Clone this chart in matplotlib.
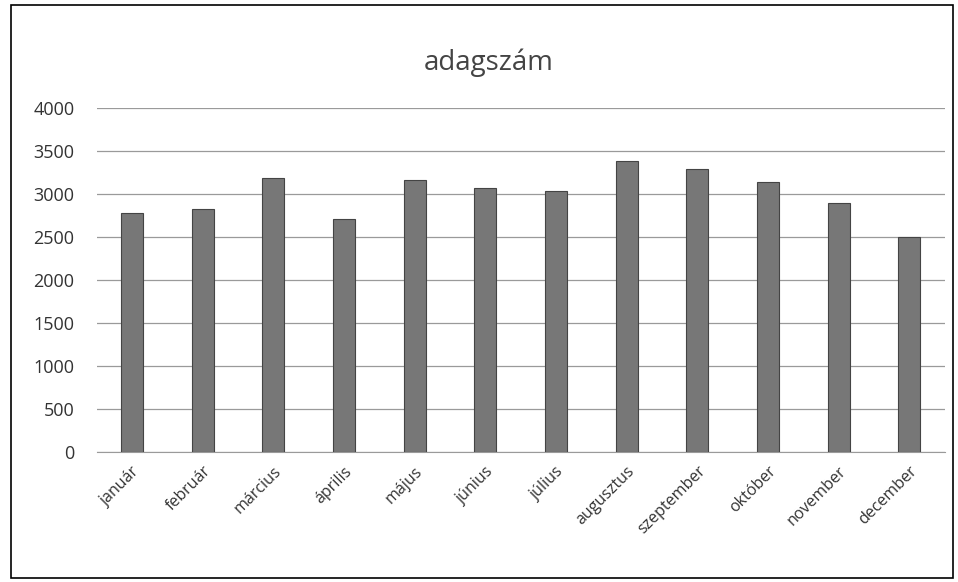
import matplotlib.pyplot as plt
from matplotlib.patches import Rectangle

honapok = ["január", "február", "március", "április", "május", "június",
           "július", "augusztus", "szeptember", "október", "november", "december"]
adagszam = [2780, 2830, 3190, 2710, 3170, 3070, 3040, 3390, 3290, 3140, 2900, 2500]
y_ticks = [0, 500, 1000, 1500, 2000, 2500, 3000, 3500, 4000]

plt.rcParams['font.family'] = ['Open Sans', 'DejaVu Sans']

fig = plt.figure(figsize=(9.58, 5.82), dpi=100)
ax = fig.add_axes([0.101, 0.223, 0.885, 0.591])

x = range(len(honapok))
ax.bar(x, adagszam, width=0.31, color="#777777", edgecolor="#444444", linewidth=0.8, zorder=3)

ax.set_xlim(-0.5, len(honapok) - 0.5)
ax.set_ylim(0, 4000)
ax.set_yticks(y_ticks)
ax.set_yticklabels([str(v) for v in y_ticks], fontsize=13, color="#333333")
ax.set_xticks(list(x))
ax.set_xticklabels(honapok, rotation=45, ha="right", rotation_mode="anchor",
                   fontsize=11.5, color="#333333")
ax.tick_params(axis="both", length=0)
ax.tick_params(axis="y", pad=16)
ax.tick_params(axis="x", pad=8)

ax.grid(axis="y", color="#9a9a9a", linewidth=0.9, zorder=0)
for s in ["top", "right", "left"]:
    ax.spines[s].set_visible(False)
ax.spines["bottom"].set_color("#9a9a9a")

fig.text(0.51, 0.893, "adagszám", ha="center", va="center", fontsize=20, color="#444444")

# keret
fig.patches.append(Rectangle((0.011, 0.007), 0.984, 0.984, transform=fig.transFigure,
                             fill=False, edgecolor="black", linewidth=1.2))

plt.savefig("out.png", dpi=100)
